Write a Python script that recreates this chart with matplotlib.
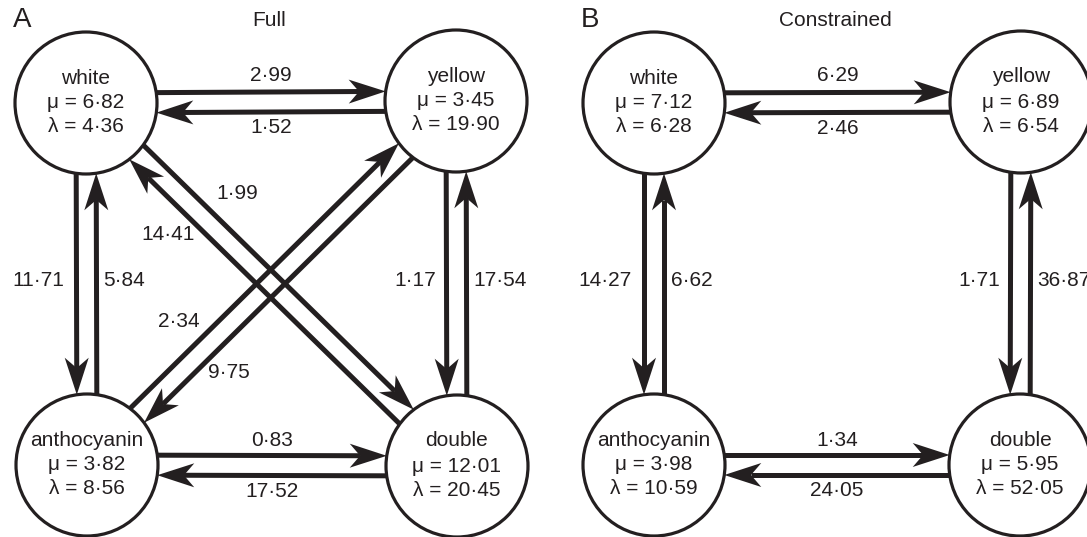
import numpy as np
import matplotlib.pyplot as plt
from matplotlib.patches import Circle, Polygon

plt.rcParams['font.family'] = ['Liberation Sans', 'DejaVu Sans']

# states and the rates
states = ['white', 'yellow', 'anthocyanin', 'double']

full_mu = [6.82, 3.45, 3.82, 12.01]
full_lam = [4.36, 19.90, 8.56, 20.45]
# pairs (i, j): forward rate i->j, back rate j->i
full_pairs = [(0, 1), (0, 2), (1, 3), (2, 3), (0, 3), (2, 1)]
full_fwd = [2.99, 11.71, 1.17, 0.83, 1.99, 2.34]
full_back = [1.52, 5.84, 17.54, 17.52, 14.41, 9.75]

con_mu = [7.12, 6.89, 3.98, 5.95]
con_lam = [6.28, 6.54, 10.59, 52.05]
con_pairs = [(0, 1), (0, 2), (1, 3), (2, 3)]
con_fwd = [6.29, 14.27, 1.71, 1.34]
con_back = [2.46, 6.62, 36.87, 24.05]

# layout (pixels, y down)
pos_full = [(86, 103), (456, 101), (87, 465), (457, 466)]
pos_con = [(654, 103), (1021, 102), (654, 465), (1020, 465)]
R = 71
OFF = 10
HL, HW = 37, 12
FS = 15
INK = '#231f20'
# label placement per pair: (t_fwd, d_fwd, t_back, d_back)
lab_full = [(0.5, 27, 0.5, 26), (0.5, 22, 0.5, 17), (0.5, 20, 0.5, 17),
            (0.5, 25, 0.5, 26), (0.33, 41, 0.29, 37), (0.32, 38, 0.32, 34)]
lab_con = lab_full[:4]


def fmt(v):
    return '{:.2f}'.format(v).replace('.', '\u00b7')


fig = plt.figure(figsize=(10.87, 5.37), dpi=100)
ax = fig.add_axes([0, 0, 1, 1])
ax.set_xlim(0, 1087)
ax.set_ylim(537, 0)
ax.axis('off')


def arrow(p0, p1, n, off):
    p0 = np.array(p0, float)
    p1 = np.array(p1, float)
    d = (p1 - p0) / np.linalg.norm(p1 - p0)
    along = np.sqrt(R ** 2 - off ** 2)
    start = p0 + d * along + n * off
    tip = p1 - d * along + n * off
    back = tip - d * HL * 0.72
    ax.plot([start[0], back[0]], [start[1], back[1]], color=INK,
            lw=3.6, solid_capstyle='butt', zorder=2)
    head = [tip, tip - d * HL + n * HW, tip - d * HL * 0.72, tip - d * HL - n * HW]
    ax.add_patch(Polygon(head, closed=True, fc=INK, ec='none', zorder=3))


def panel(pos, mu, lam, pairs, fwd, bk, labs):
    for k, (i, j) in enumerate(pairs):
        p0 = np.array(pos[i], float)
        p1 = np.array(pos[j], float)
        d = (p1 - p0) / np.linalg.norm(p1 - p0)
        n = np.array([d[1], -d[0]])
        if n[1] > 1e-6 or (abs(n[1]) < 1e-6 and n[0] > 0):
            n = -n
        if abs(n[1]) < 0.2 and abs(n[0]) > 0.9:
            n = np.array([-1.0, 0.0])
        arrow(p0, p1, n, OFF)
        arrow(p1, p0, n, -OFF)
        tf, df, tb, db = labs[k]
        vertical = abs(d[1]) > 0.95
        for t, dist, sgn, val in [(tf, df, 1, fwd[k]), (tb, db, -1, bk[k])]:
            q = p0 + (p1 - p0) * t + n * dist * sgn
            if vertical:
                ha = 'right' if n[0] * sgn < 0 else 'left'
                ax.text(q[0], q[1] - 3, fmt(val), fontsize=FS, ha=ha,
                        va='center', color=INK)
            else:
                ax.text(q[0], q[1], fmt(val), fontsize=FS, ha='center',
                        va='center', color=INK)
    for s, (x, y) in enumerate(pos):
        ax.add_patch(Circle((x, y), R, fc='white', ec=INK, lw=2.3, zorder=4))
        ax.text(x, y - 25, states[s], fontsize=FS, ha='center', va='center',
                color=INK, zorder=5)
        ax.text(x, y, '\u03bc = ' + fmt(mu[s]), fontsize=FS, ha='center',
                va='center', color=INK, zorder=5)
        ax.text(x, y + 24, '\u03bb = ' + fmt(lam[s]), fontsize=FS, ha='center',
                va='center', color=INK, zorder=5)


panel(pos_full, full_mu, full_lam, full_pairs, full_fwd, full_back, lab_full)
panel(pos_con, con_mu, con_lam, con_pairs, con_fwd, con_back, lab_con)

ax.text(22, 20, 'A', fontsize=20, ha='center', va='center', color=INK)
ax.text(269, 21, 'Full', fontsize=FS, ha='center', va='center', color=INK)
ax.text(590, 20, 'B', fontsize=20, ha='center', va='center', color=INK)
ax.text(835, 21, 'Constrained', fontsize=FS, ha='center', va='center', color=INK)

fig.savefig('out.png', dpi=100)
